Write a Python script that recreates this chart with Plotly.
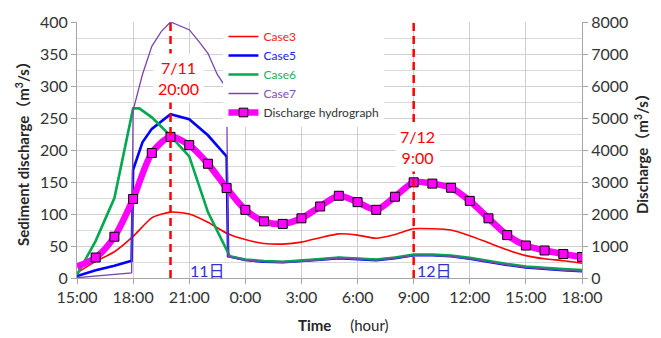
import plotly.graph_objects as go

# ---- data (hours since 0:00 of 7/11; 24+ = 7/12) ----
tick_vals = [15, 18, 21, 24, 27, 30, 33, 36, 39, 42]
tick_text = ["15:00", "18:00", "21:00", "0:00", "3:00", "6:00", "9:00", "12:00", "15:00", "18:00"]

hours = list(range(15, 43))
case3 = [8, 26, 41, 65, 94, 103, 100, 87, 70, 60, 54, 53, 56, 63, 69, 67, 62, 68,
         77, 77, 75, 66, 55, 44, 35, 30, 27, 23]

late_hours = list(range(24, 43))
low_late = [28, 25.5, 24.5, 26, 28.5, 31, 30, 28, 31, 35.5, 35.5, 34, 30, 25, 20.5,
            16.5, 14, 12, 10.5]
green_late = [29, 26.5, 25.5, 27, 29.5, 32, 31, 29, 32, 36.5, 36.5, 35, 31.5, 26.5,
              22, 18, 15.5, 14, 12.5]

case5_t = [15, 16, 17, 17.92, 18, 18.5, 19, 20, 21, 22, 23, 23.08] + late_hours
case5 = [3, 12, 19, 27, 169, 212, 233, 256, 248, 223, 190, 34] + low_late

case6_t = [15, 16, 17, 18, 18.33, 19, 20, 21, 22, 23, 23.17] + late_hours
case6 = [5, 58, 125, 265, 265, 251, 222, 190, 103, 43, 34] + green_late

case7_t = [15, 16, 17, 17.92, 18, 18.5, 19, 19.5, 20, 21, 21.5, 22, 22.5, 23, 23.08] + late_hours
case7 = [0.5, 3, 6, 8, 262, 318, 362, 385, 400, 388, 370, 351, 318, 296, 34] + low_late

discharge = [356, 640, 1290, 2470, 3905, 4410, 4152, 3570, 2810, 2130, 1770, 1690,
             1865, 2235, 2570, 2370, 2130, 2540, 2990, 2950, 2820, 2410, 1865, 1340,
             1015, 860, 750, 655]

peak_times = [20, 33]
peak_labels = ["7/11<br>20:00", "7/12<br>9:00"]
peak_label_x = [20.4, 33.2]
peak_label_y = [312, 205]
day_labels = ["11日", "12日"]
day_label_x = [22.0, 34.1]

FONT = "Lato, 'Noto Sans CJK JP', sans-serif"

fig = go.Figure()

fig.add_trace(go.Scatter(x=hours, y=case3, mode="lines", line=dict(color="#ff0000", width=1.6, shape="spline", smoothing=0.6),
                         name="<span style='color:#ff2020'>Case3</span>"))
fig.add_trace(go.Scatter(x=case5_t, y=case5, mode="lines", line=dict(color="#0000ff", width=2.6),
                         name="<span style='color:#2020ff'>Case5</span>"))
fig.add_trace(go.Scatter(x=case6_t, y=case6, mode="lines", line=dict(color="#00a84f", width=2.6),
                         name="<span style='color:#20b060'>Case6</span>"))
fig.add_trace(go.Scatter(x=case7_t, y=case7, mode="lines", line=dict(color="#7a45b0", width=1.3),
                         name="<span style='color:#8050b8'>Case7</span>"))
fig.add_trace(go.Scatter(x=hours, y=discharge, yaxis="y2", mode="lines+markers",
                         line=dict(color="#ff00ff", width=6.5, shape="spline", smoothing=0.8),
                         marker=dict(symbol="square", size=[0] + [9] * (len(hours) - 1),
                                     color="#ff00ff", opacity=1,
                                     line=dict(color="#000000", width=1)),
                         name="<span style='color:#333333'>Discharge hydrograph</span>"))

shapes = []
for t in peak_times:
    shapes.append(dict(type="line", xref="x", yref="paper", x0=t, x1=t, y0=0, y1=1,
                       line=dict(color="#ff0000", width=2.5, dash="8px,5px")))

annotations = []
for tx, lab, yy in zip(peak_label_x, peak_labels, peak_label_y):
    annotations.append(dict(x=tx, y=yy, xref="x", yref="y", text=lab, showarrow=False,
                            font=dict(family=FONT, size=16, color="#ff0000"),
                            bgcolor="white", borderpad=4, xanchor="center", yanchor="middle"))
for xx, lab in zip(day_label_x, day_labels):
    annotations.append(dict(x=xx, y=12, xref="x", yref="y", text=lab, showarrow=False,
                            font=dict(family=FONT, size=16, color="#3030d0"),
                            xanchor="center", yanchor="middle"))
annotations.append(dict(x=0.528, y=-0.183, xref="paper", yref="paper",
                        text="<b>Time</b>　 (hour)", showarrow=False,
                        font=dict(family=FONT, size=15, color="#262626"),
                        xanchor="center", yanchor="middle"))

fig.update_layout(
    width=661, height=338,
    margin=dict(l=77, r=76, t=18, b=60),
    paper_bgcolor="white", plot_bgcolor="white",
    font=dict(family=FONT, size=16, color="#333333"),
    showlegend=True,
    legend=dict(x=0.29, y=1.0, xanchor="left", yanchor="top", bgcolor="white",
                font=dict(family=FONT, size=12), tracegroupgap=0, itemwidth=30),
    shapes=shapes,
    annotations=annotations,
    xaxis=dict(range=[15, 42], tickvals=tick_vals, ticktext=tick_text, showgrid=True,
               gridcolor="#d0d0d0", gridwidth=1, showline=True, linecolor="#a6a6a6",
               ticks="outside", ticklen=5, tickcolor="#a6a6a6", zeroline=False),
    yaxis=dict(range=[0, 400], dtick=50, showgrid=True, gridcolor="#d0d0d0",
               minor=dict(dtick=25, showgrid=True, gridcolor="#d9d9d9"),
               showline=True, linecolor="#a6a6a6", ticks="outside", ticklen=5,
               tickcolor="#a6a6a6", zeroline=False,
               title=dict(text="<b>Sediment discharge（m<sup>3</sup>/s）</b>",
                          font=dict(size=15, color="#262626"), standoff=6)),
    yaxis2=dict(range=[0, 8000], dtick=1000, overlaying="y", side="right", showgrid=False,
                showline=True, linecolor="#a6a6a6", ticks="outside", ticklen=5,
                tickcolor="#a6a6a6", zeroline=False,
                title=dict(text="<b>Discharge（m<sup>3</sup>/s）</b>",
                           font=dict(size=15, color="#262626"), standoff=10)),
)

fig.write_html("out.html")
